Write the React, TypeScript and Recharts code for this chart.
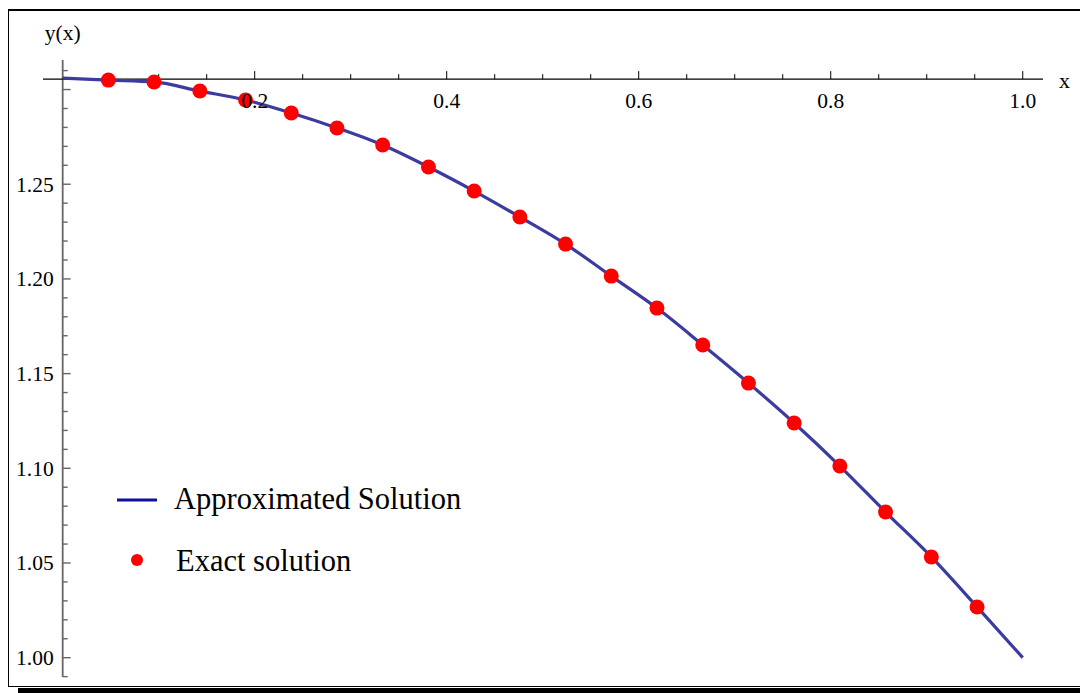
import React from 'react';
import {
  ComposedChart,
  Line,
  Scatter,
  XAxis,
  YAxis,
  ReferenceLine,
  ReferenceDot,
  Legend,
} from 'recharts';

// ---------- data ----------
const approxX = [0, 0.0476, 0.0952, 0.1429, 0.1905, 0.2381, 0.2857, 0.3333, 0.381, 0.4286, 0.4762,
  0.5238, 0.5714, 0.619, 0.6667, 0.7143, 0.7619, 0.8095, 0.8571, 0.9048, 0.9524, 1.0];
const approxY = [1.306, 1.305, 1.304, 1.2992, 1.2945, 1.2876, 1.2797, 1.2707, 1.2591, 1.2464, 1.2327,
  1.2184, 1.2015, 1.1846, 1.1651, 1.145, 1.1239, 1.1012, 1.0769, 1.0532, 1.0268, 1.0];

const exactX = [0.0476, 0.0952, 0.1429, 0.1905, 0.2381, 0.2857, 0.3333, 0.381, 0.4286, 0.4762,
  0.5238, 0.5714, 0.619, 0.6667, 0.7143, 0.7619, 0.8095, 0.8571, 0.9048, 0.9524];
const exactY = [1.305, 1.304, 1.2992, 1.2945, 1.2876, 1.2797, 1.2707, 1.2591, 1.2464, 1.2327,
  1.2184, 1.2015, 1.1846, 1.1651, 1.145, 1.1239, 1.1012, 1.0769, 1.0532, 1.0268];

const seriesNames = ['Approximated Solution', 'Exact solution'];

const xMajorTicks = [0.2, 0.4, 0.6, 0.8, 1.0];
const xMajorLabels = ['0.2', '0.4', '0.6', '0.8', '1.0'];
const xMinorTicks = [0.05, 0.1, 0.15, 0.25, 0.3, 0.35, 0.45, 0.5, 0.55, 0.65, 0.7, 0.75, 0.85, 0.9, 0.95];

const yMajorTicks = [1.0, 1.05, 1.1, 1.15, 1.2, 1.25, 1.3];
const yMajorLabels = ['1.00', '1.05', '1.10', '1.15', '1.20', '1.25', ''];
const yMinorTicks = [0.99, 1.01, 1.02, 1.03, 1.04, 1.06, 1.07, 1.08, 1.09, 1.11, 1.12, 1.13, 1.14,
  1.16, 1.17, 1.18, 1.19, 1.21, 1.22, 1.23, 1.24, 1.26, 1.27, 1.28, 1.29, 1.31];

const AXIS_ORIGIN_X = 0;
const AXIS_ORIGIN_Y = 1.3055;
const X_DOMAIN: [number, number] = [-0.0205, 1.0211];
const Y_DOMAIN: [number, number] = [0.9898, 1.3156];

// ---------- derived tables ----------
const approxData = approxX.map((x, i) => ({ x, y: approxY[i] }));
const exactData = exactX.map((x, i) => ({ x, y: exactY[i] }));

const FONT = '"Liberation Serif", "Times New Roman", serif';
const LINE_COLOR = '#3b3ba0';
const LEGEND_LINE_COLOR = '#10109c';
const DOT_COLOR = '#ff0000';
const Y_AXIS_COLOR = '#666666';

const xTickShape = (len: number, label?: string) => (p: any) => (
  <g>
    <line x1={p.cx} y1={p.cy} x2={p.cx} y2={p.cy - len} stroke="#000" strokeWidth={1} />
    {label ? (
      <text x={p.cx} y={p.cy + 29} textAnchor="middle" fontFamily={FONT} fontSize={21.5} fill="#000">
        {label}
      </text>
    ) : null}
  </g>
);

const yTickShape = (len: number, label?: string) => (p: any) => (
  <g>
    <line x1={p.cx} y1={p.cy} x2={p.cx + len} y2={p.cy} stroke={Y_AXIS_COLOR} strokeWidth={1.4} />
    {label ? (
      <text x={p.cx - 9} y={p.cy + 7.5} textAnchor="end" fontFamily={FONT} fontSize={21.5} fill="#000">
        {label}
      </text>
    ) : null}
  </g>
);

const yAxisLabel = (props: any) => {
  const vb = props.viewBox || props;
  return (
    <text x={vb.x} y={vb.y - 20} textAnchor="middle" fontFamily={FONT} fontSize={21.5} fill="#000">
      y(x)
    </text>
  );
};

const xAxisLabel = (props: any) => {
  const vb = props.viewBox || props;
  return (
    <text x={vb.x + (vb.width || 0) + 16} y={vb.y + 9} textAnchor="start" fontFamily={FONT} fontSize={22} fill="#000">
      x
    </text>
  );
};

const renderLegend = (props: any) => {
  const payload: any[] = props.payload || [];
  const lineEntry = payload.find((e) => e.type === 'line');
  const dotEntry = payload.find((e) => e.type !== 'line');
  return (
    <svg width={400} height={110} style={{ display: 'block', overflow: 'visible' }}>
      <line x1={7} y1={30} x2={47} y2={30} stroke={LEGEND_LINE_COLOR} strokeWidth={2.8} />
      <text x={64} y={39} fontFamily={FONT} fontSize={30.5} fill="#000">
        {lineEntry ? lineEntry.value : seriesNames[0]}
      </text>
      <circle cx={27} cy={90} r={6} fill={DOT_COLOR} />
      <text x={66} y={101} fontFamily={FONT} fontSize={30.5} fill="#000">
        {dotEntry ? dotEntry.value : seriesNames[1]}
      </text>
    </svg>
  );
};

export default function App() {
  return (
    <div style={{ position: 'absolute', left: 0, top: 0, width: 1080, height: 693, overflow: 'hidden', background: '#fff' }}>
      {/* frame */}
      <div
        style={{
          position: 'absolute',
          left: 8,
          top: 9,
          width: 1100,
          height: 678,
          borderLeft: '1.5px solid #000',
          borderTop: '2px solid #000',
          borderBottom: '1px solid #000',
          boxSizing: 'border-box',
        }}
      />
      <div style={{ position: 'absolute', left: 18, top: 688, width: 1100, height: 6, background: '#000' }} />
      <div style={{ position: 'absolute', left: 0, top: 0 }}>
        <ComposedChart width={1080} height={693} margin={{ top: 60, left: 43, right: 37, bottom: 16 }}>
          <XAxis dataKey="x" type="number" domain={X_DOMAIN} allowDataOverflow hide />
          <YAxis dataKey="y" type="number" domain={Y_DOMAIN} allowDataOverflow hide />
          <ReferenceLine x={AXIS_ORIGIN_X} stroke={Y_AXIS_COLOR} strokeWidth={1.8} label={yAxisLabel} />
          <ReferenceLine y={AXIS_ORIGIN_Y} stroke="#000" strokeWidth={1.2} label={xAxisLabel} />
          {xMinorTicks.map((t) => (
            <ReferenceDot key={'xm' + t} x={t} y={AXIS_ORIGIN_Y} r={1} shape={xTickShape(5)} />
          ))}
          {yMinorTicks.map((t) => (
            <ReferenceDot key={'ym' + t} x={AXIS_ORIGIN_X} y={t} r={1} shape={yTickShape(5)} />
          ))}
          {yMajorTicks.map((t, i) => (
            <ReferenceDot key={'yM' + t} x={AXIS_ORIGIN_X} y={t} r={1} shape={yTickShape(8, yMajorLabels[i])} />
          ))}
          <Line
            data={approxData}
            dataKey="y"
            name={seriesNames[0]}
            type="monotone"
            stroke={LINE_COLOR}
            strokeWidth={3.2}
            dot={false}
            activeDot={false}
            legendType="line"
            isAnimationActive={false}
          />
          <Scatter
            data={exactData}
            dataKey="y"
            name={seriesNames[1]}
            fill={DOT_COLOR}
            legendType="circle"
            isAnimationActive={false}
            shape={(p: any) => <circle cx={p.cx} cy={p.cy} r={7.5} fill={DOT_COLOR} />}
          />
          {xMajorTicks.map((t, i) => (
            <ReferenceDot key={'xM' + t} x={t} y={AXIS_ORIGIN_Y} r={1} shape={xTickShape(8, xMajorLabels[i])} />
          ))}
          <Legend
            layout="horizontal"
            verticalAlign="middle"
            align="center"
            content={renderLegend}
            wrapperStyle={{ left: 110, top: 470, width: 400, height: 110 }}
          />
        </ComposedChart>
      </div>
    </div>
  );
}
